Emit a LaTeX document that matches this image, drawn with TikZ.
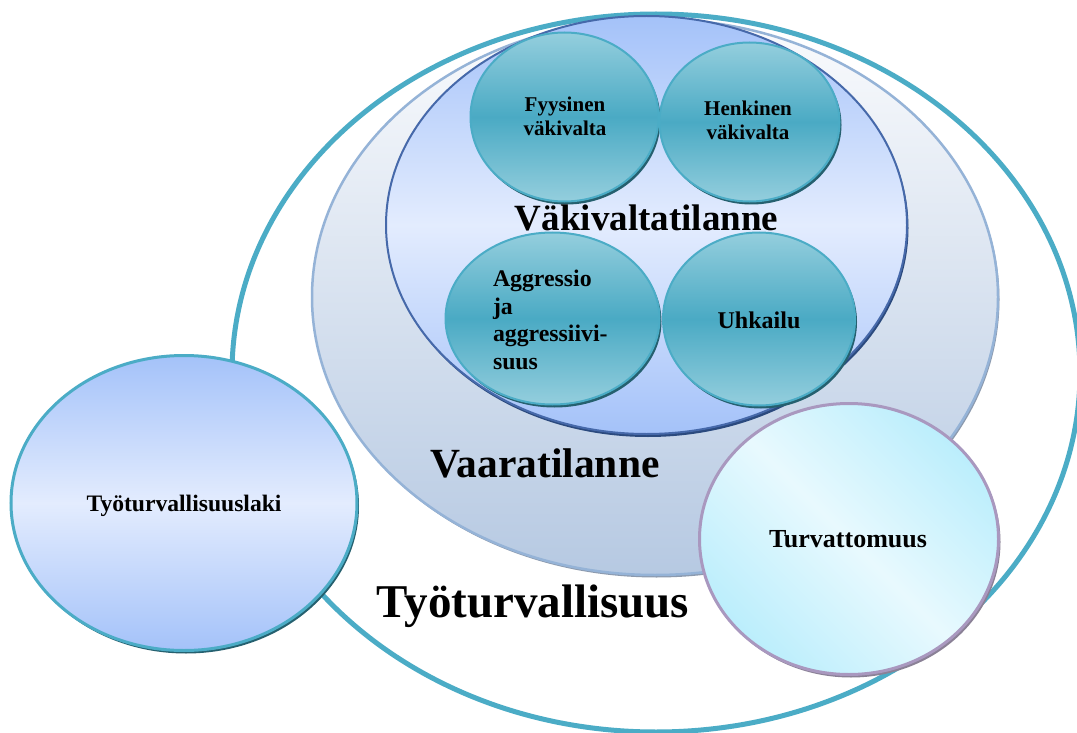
\documentclass[tikz,border=0pt]{standalone}
\usepackage{fontspec}
\setmainfont{Liberation Serif}
\usetikzlibrary{shapes.geometric,shadows}
\definecolor{tealline}{HTML}{4BACC6}
\definecolor{tealmid}{HTML}{4AAAC4}
\definecolor{teallight}{HTML}{94CEDD}
\definecolor{tealshadow}{HTML}{25606F}
\definecolor{bluetop}{HTML}{A4C2F9}
\definecolor{bluemid}{HTML}{E3ECFE}
\definecolor{blueline}{HTML}{4669AA}
\definecolor{blueshadow}{HTML}{2B4A7E}
\definecolor{greytop}{HTML}{FAFBFD}
\definecolor{greybot}{HTML}{B6C9E2}
\definecolor{greyline}{HTML}{95B3D7}
\definecolor{greyshadow}{HTML}{8C9AAE}
\definecolor{cyanA}{HTML}{BBEEFC}
\definecolor{cyanB}{HTML}{E8F9FE}
\definecolor{lilac}{HTML}{A998BF}
\definecolor{lilacshadow}{HTML}{8A8196}
\tikzset{
  blob/.style={ellipse, inner sep=0pt, outer sep=0pt},
  tealball/.style={blob, draw=tealline, line width=2pt,
    top color=teallight, bottom color=teallight, middle color=tealmid,
    drop shadow={shadow xshift=2pt, shadow yshift=-3pt, fill=tealshadow, opacity=1}},
  lbl/.style={inner sep=0pt, outer sep=0pt, text=black, font=\bfseries}
}
\begin{document}
\begin{tikzpicture}[x=1pt,y=-1pt]
\useasboundingbox (0,0) rectangle (1077,733);
\fill[white] (0,0) rectangle (1077,733);
% outer ellipse
\node[blob, draw=tealline, line width=5pt, fill=white,
      minimum width=848pt, minimum height=718pt] (tyo) at (656,373) {};
% Vaaratilanne
\node[blob, draw=greyline, line width=2.5pt, top color=greytop, bottom color=greybot,
      drop shadow={shadow xshift=1.5pt, shadow yshift=-2.5pt, fill=greyshadow, opacity=1},
      minimum width=686pt, minimum height=556pt] (vaara) at (655,297) {};
% Vakivaltatilanne
\node[blob, draw=blueline, line width=2pt, top color=bluetop, bottom color=bluetop, middle color=bluemid,
      drop shadow={shadow xshift=1.5pt, shadow yshift=-3pt, fill=blueshadow, opacity=1},
      minimum width=521pt, minimum height=418pt] (vaki) at (646.5,225) {};
% small circles
\node[tealball, minimum width=188pt, minimum height=169pt] (fyys) at (564.5,117) {};
\node[tealball, minimum width=180pt, minimum height=159pt] (henk) at (749.5,122) {};
\node[tealball, minimum width=214pt, minimum height=172pt] (aggr) at (552.5,318.5) {};
\node[tealball, minimum width=192pt, minimum height=173pt] (uhk) at (759,319) {};
% Tyoturvallisuuslaki
\node[blob, draw=tealline, line width=3pt, top color=bluetop, bottom color=bluetop, middle color=bluemid,
      drop shadow={shadow xshift=2pt, shadow yshift=-3pt, fill=tealshadow, opacity=1},
      minimum width=346pt, minimum height=295pt] (laki) at (184,503) {};
% Turvattomuus
\node[blob, draw=lilac, line width=3pt, top color=cyanA, bottom color=cyanA, middle color=cyanB,
      shading angle=-45,
      drop shadow={shadow xshift=2pt, shadow yshift=-3pt, fill=lilacshadow, opacity=1},
      minimum width=299pt, minimum height=271pt] (turv) at (849,539) {};
% labels
\node[lbl, font=\bfseries\fontsize{37}{37}\selectfont, anchor=base] (tVaki) at (646.5,230) {Väkivaltatilanne};
\node[lbl, font=\bfseries\fontsize{41.5}{41.5}\selectfont, anchor=base] (tVaara) at (545,477) {Vaaratilanne};
\node[lbl, font=\bfseries\fontsize{47}{47}\selectfont, anchor=base] (tTyo) at (533,617) {Työturvallisuus};
\node[lbl, font=\bfseries\fontsize{23.6}{23.6}\selectfont, anchor=base] (tLaki) at (184,511) {Työturvallisuuslaki};
\node[lbl, font=\bfseries\fontsize{26}{26}\selectfont, anchor=base] (tTurv) at (848,547) {Turvattomuus};
\node[lbl, font=\bfseries\fontsize{21}{24}\selectfont, align=center] (tFyys) at (565,116) {Fyysinen\\väkivalta};
\node[lbl, font=\bfseries\fontsize{21}{24}\selectfont, align=center] (tHenk) at (748,120) {Henkinen\\väkivalta};
\node[lbl, font=\bfseries\fontsize{23.8}{27.7}\selectfont, align=left, anchor=west] (tAggr) at (493,320) {Aggressio\\ja\\aggressiivi-\\suus};
\node[lbl, font=\bfseries\fontsize{24}{24}\selectfont, anchor=base] (tUhk) at (759,328) {Uhkailu};
\end{tikzpicture}
\end{document}
